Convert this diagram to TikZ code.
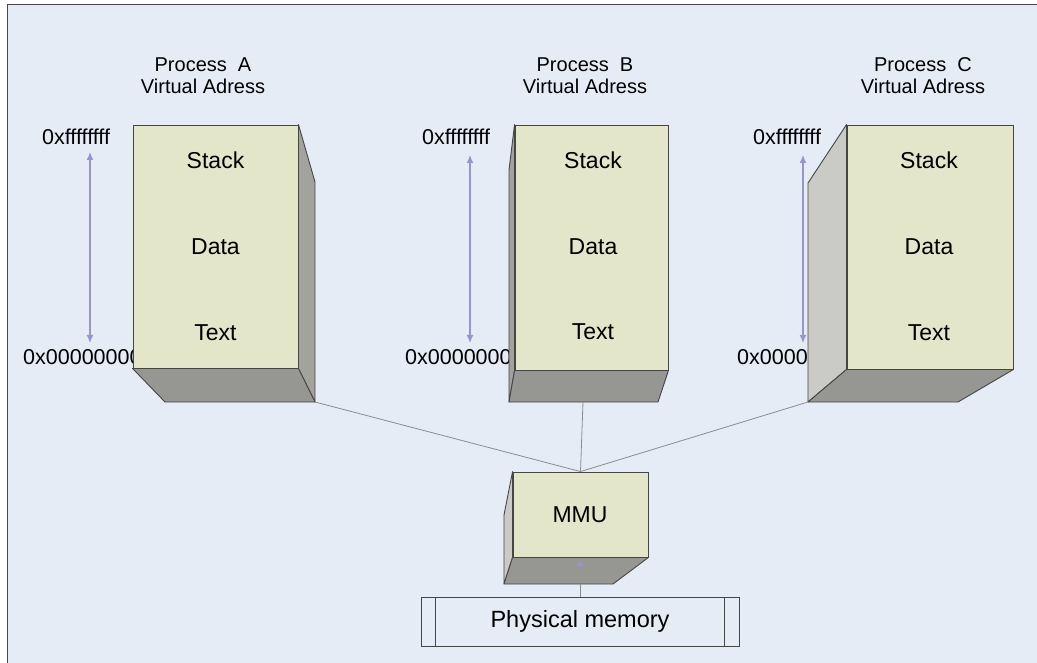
\documentclass[tikz,border=0pt]{standalone}
\usepackage{fontspec}
\setmainfont{Liberation Sans}
\usetikzlibrary{arrows.meta}
\definecolor{bgblue}{RGB}{230,236,246}
\definecolor{faceyellow}{RGB}{227,230,200}
\definecolor{sidegray}{RGB}{163,163,158}
\definecolor{bottomgray}{RGB}{150,150,146}
\definecolor{lightside}{RGB}{202,202,198}
\definecolor{edgegray}{RGB}{70,70,70}
\definecolor{arrowblue}{RGB}{150,150,205}
\definecolor{linkgray}{RGB}{140,140,140}
\tikzset{
  front/.style={draw=edgegray, fill=faceyellow, line width=0.9pt, inner sep=0pt},
  side/.style={draw=edgegray, fill=sidegray, line width=0.9pt, line join=round},
  bottomside/.style={side, fill=bottomgray},
  segtext/.style={font=\fontsize{23}{26}\selectfont, inner sep=0pt},
  addr/.style={font=\fontsize{21.5}{24}\selectfont, inner sep=0pt},
  title/.style={font=\fontsize{20}{22}\selectfont, align=center, inner sep=0pt},
  addrrange/.style={draw=arrowblue, line width=1.2pt, {Latex[length=8pt,width=7pt]}-{Latex[length=8pt,width=7pt]}},
  link/.style={draw=linkgray, line width=0.8pt}
}
\begin{document}
\begin{tikzpicture}[x=1pt,y=-1pt]
\useasboundingbox (0,0) rectangle (1037,663);
% background frame
\fill[white] (0,0) rectangle (1037,663);
\fill[bgblue] (7,5) rectangle (1037,663);
\draw[edgegray, line width=1pt] (7,663) -- (7,5) -- (1037,5);

% titles
\node[title] (titleA) at (203,76) {Process\ \ A\\Virtual Adress};
\node[title] (titleB) at (585,76) {Process\ \ B\\Virtual Adress};
\node[title] (titleC) at (923,76) {Process\ \ C\\Virtual Adress};

% address ranges
\node[addr, anchor=west] (topA) at (42,137) {0xffffffff};
\node[addr, anchor=west] (lowA) at (23,357) {0x00000000};
\draw[addrrange] (90,152) -- (90,343);
\node[addr, anchor=west] (topB) at (422,137) {0xffffffff};
\node[addr, anchor=west] (lowB) at (405,357) {0x00000000};
\draw[addrrange] (470,155) -- (470,343);
\node[addr, anchor=west] (topC) at (753,137) {0xffffffff};
\node[addr, anchor=west] (lowC) at (737,357) {0x00000000};
\draw[addrrange] (803,155) -- (803,343);

% process A
\node[front, minimum width=165pt, minimum height=243pt] (boxA) at (215.5,246.5) {};
\draw[side] (boxA.north east) -- (315,182) -- (315,402) -- (boxA.south east) -- cycle;
\draw[bottomside] (boxA.south west) -- (165,402) -- (315,402) -- (boxA.south east) -- cycle;
\node[segtext] (stackA) at (215.5,160) {Stack};
\node[segtext] (dataA) at (215.5,247) {Data};
\node[segtext] (textA) at (215.5,333) {Text};

% process B
\node[front, minimum width=153pt, minimum height=245pt] (boxB) at (591.5,247.5) {};
\draw[side] (boxB.north west) -- (509,170) -- (509,402) -- (boxB.south west) -- cycle;
\draw[bottomside] (509,402) -- (658,402) -- (boxB.south east) -- (boxB.south west) -- cycle;
\node[segtext] (stackB) at (593,160) {Stack};
\node[segtext] (dataB) at (593,247) {Data};
\node[segtext] (textB) at (593,332) {Text};

% process C
\node[front, minimum width=166pt, minimum height=244pt] (boxC) at (930,247) {};
\draw[side, fill=lightside] (boxC.north west) -- (808,183) -- (808,402) -- (boxC.south west) -- cycle;
\draw[bottomside] (808,402) -- (958,402) -- (boxC.south east) -- (boxC.south west) -- cycle;
\node[segtext] (stackC) at (929,160) {Stack};
\node[segtext] (dataC) at (929,247) {Data};
\node[segtext] (textC) at (929,333) {Text};

% MMU
\node[front, minimum width=135pt, minimum height=85pt] (mmu) at (580.5,514.5) {};
\draw[side, fill=lightside] (mmu.north west) -- (504,515) -- (504,584) -- (mmu.south west) -- cycle;
\draw[bottomside] (504,584) -- (613,584) -- (mmu.south east) -- (mmu.south west) -- cycle;
\node[segtext] (mmutext) at (580,515) {MMU};

% physical memory
\node[draw=edgegray, line width=0.9pt, minimum width=318pt, minimum height=49pt,
      font=\fontsize{23.5}{26}\selectfont] (phys) at (580,621.5) {Physical memory};
\draw[edgegray, line width=0.6pt] ([xshift=15pt]phys.north west) -- ([xshift=15pt]phys.south west);
\draw[edgegray, line width=0.6pt] ([xshift=-15pt]phys.north east) -- ([xshift=-15pt]phys.south east);

% connectors
\coordinate (cornerA) at (315,402);
\coordinate (cornerB) at (583,402);
\coordinate (cornerC) at (808,402);
\coordinate (mmuBottom) at (580,584);
\coordinate (tipM) at (580,560);
\draw[link] (cornerA) -- (mmu.north);
\draw[link] (cornerB) -- (mmu.north);
\draw[link] (cornerC) -- (mmu.north);
\draw[link] (phys.north) -- (mmuBottom);
\draw[arrowblue, line width=1pt, -{Latex[length=6pt,width=8pt]}] (580,567) -- (tipM);
\end{tikzpicture}
\end{document}
